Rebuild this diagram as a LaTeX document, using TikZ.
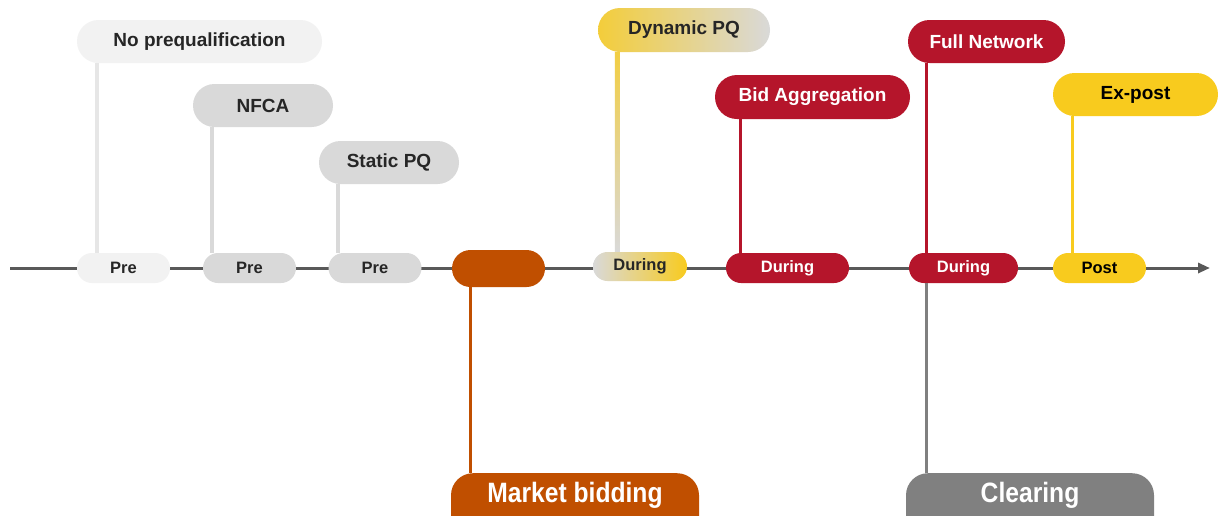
\documentclass[tikz,border=0pt]{standalone}
\usepackage{fontspec}
\setmainfont{Liberation Sans}
\newfontfamily\narrowsans[FakeStretch=0.88]{Liberation Sans}
\usetikzlibrary{arrows.meta,shapes.misc,positioning}

\definecolor{lineGray}{HTML}{595959}
\definecolor{paleGray}{HTML}{F2F2F2}
\definecolor{midGray}{HTML}{D9D9D9}
\definecolor{darkText}{HTML}{262626}
\definecolor{bidOrange}{HTML}{C04F00}
\definecolor{netRed}{HTML}{B5152B}
\definecolor{postYellow}{HTML}{F8CB1E}
\definecolor{clearGray}{HTML}{808080}

\begin{document}
\begin{tikzpicture}[
		x=1pt, y=-1pt,
		% Styles
		label/.style={rounded rectangle, inner sep=0pt, minimum height=43pt,
				font=\bfseries\fontsize{19}{22}\selectfont},
		stage/.style={rounded rectangle, inner sep=0pt, minimum height=30pt,
				minimum width=93pt, font=\bfseries\fontsize{16.5}{20}\selectfont},
		phase/.style={rectangle, rounded corners=22pt, inner sep=0pt, minimum width=248pt,
				text height=29pt, text depth=45pt, text=white,
				font=\narrowsans\bfseries\fontsize{28}{32}\selectfont},
		link/.style={line width=3pt}
	]

	% --- canvas ---
	\fill[white] (0,0) rectangle (1218,515);
	\useasboundingbox (0,0) rectangle (1218,515);

	% --- timeline ---
	\coordinate (tlStart) at (10,268);
	\coordinate (tlEnd) at (1210,268);
	\draw[line width=3pt, lineGray, -{Triangle[length=12pt,width=10pt]}] (tlStart) -- (tlEnd);

	% --- stages on the timeline ---
	\node[stage, fill=paleGray, text=darkText] (pre1) at (123.5,268) {Pre};
	\node[stage, fill=midGray, text=darkText] (pre2) at (249.5,268) {Pre};
	\node[stage, fill=midGray, text=darkText] (pre3) at (375,268) {Pre};
	\node[stage, fill=bidOrange, minimum height=37pt] (mkt) at (498.5,268.5) {};
	\node[stage, left color=midGray, middle color=midGray!92!postYellow, right color=postYellow,
		text=darkText, minimum height=29pt, minimum width=94pt] (dur1) at (640,266.5) {During};
	\node[stage, fill=netRed, text=white, minimum width=123pt] (dur2) at (787.5,268) {During};
	\node[stage, fill=netRed, text=white, minimum width=109pt] (dur3) at (963.5,268) {During};
	\node[stage, fill=postYellow, text=black] (post) at (1099.5,268) {Post};

	% --- labels above ---
	\node[label, fill=paleGray, text=darkText, minimum width=245pt] (noPQ) at (199.5,41.5) {No prequalification};
	\node[label, fill=midGray, text=darkText, minimum width=140pt] (nfca) at (263,105.5) {NFCA};
	\node[label, fill=midGray, text=darkText, minimum width=140pt] (staticPQ) at (389,162.5) {Static PQ};
	\node[label, left color=postYellow!85!midGray, middle color=midGray!90!postYellow, right color=midGray,
		text=darkText, minimum width=172pt, minimum height=44pt] (dynPQ) at (684,30) {Dynamic PQ};
	\node[label, fill=netRed, text=white, minimum width=195pt, minimum height=44pt] (bidAgg) at (812.5,97) {Bid Aggregation};
	\node[label, fill=netRed, text=white, minimum width=157pt] (fullNet) at (986.5,41.5) {Full Network};
	\node[label, fill=postYellow, text=black, minimum width=165pt] (exPost) at (1135.5,94.5) {Ex-post};

	% --- phases below ---
	\node[phase, fill=bidOrange, anchor=north] (bidding) at (575,473) {Market bidding};
	\node[phase, fill=clearGray, anchor=north] (clearing) at (1030,473) {Clearing};

	% --- connectors ---
	\draw[line width=4pt, paleGray!95!black] ([xshift=20pt]noPQ.west |- noPQ.south) -- ([xshift=20pt]noPQ.west |- pre1.north);
	\draw[line width=4pt, midGray] ([xshift=19pt]nfca.west |- nfca.south) -- ([xshift=19pt]nfca.west |- pre2.north);
	\draw[line width=4pt, midGray] ([xshift=19pt]staticPQ.west |- staticPQ.south) -- ([xshift=19pt]staticPQ.west |- pre3.north);
	\shade[top color=postYellow!80!midGray, bottom color=midGray] ([xshift=17pt]dynPQ.west |- dynPQ.south) rectangle ([xshift=22pt]dynPQ.west |- dur1.north);
	\draw[link, netRed] ([xshift=26pt]bidAgg.west |- bidAgg.south) -- ([xshift=26pt]bidAgg.west |- dur2.north);
	\draw[link, netRed] ([xshift=19pt]fullNet.west |- fullNet.south) -- ([xshift=19pt]fullNet.west |- dur3.north);
	\draw[link, postYellow] ([xshift=20pt]exPost.west |- exPost.south) -- ([xshift=20pt]exPost.west |- post.north);
	\draw[link, bidOrange] ([xshift=19pt]mkt.west |- mkt.south) -- ([xshift=19pt]mkt.west |- bidding.north);
	\draw[link, clearGray] ([xshift=21pt]clearing.west |- dur3.south) -- ([xshift=21pt]clearing.west |- clearing.north);

\end{tikzpicture}
\end{document}
